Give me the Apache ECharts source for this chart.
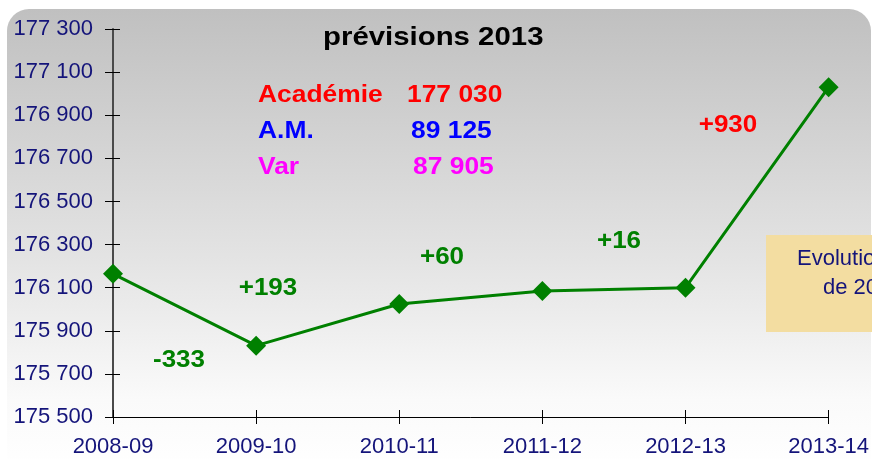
<!DOCTYPE html>
<html>
<head>
<meta charset="utf-8">
<script src="https://cdn.jsdelivr.net/npm/echarts@6/dist/echarts.min.js"></script>
<style>
  html, body { margin: 0; padding: 0; background: #fff; }
  #chart { width: 872px; height: 459px; }
</style>
</head>
<body>
<div id="chart"></div>
<script>
// annees scolaires et effectifs de l'academie
const years = ["2008-09", "2009-10", "2010-11", "2011-12", "2012-13", "2013-14"];
const effectifs = [176164, 175831, 176024, 176084, 176100, 177030];
const variations = ["-333", "+193", "+60", "+16", "+930"];
const yTicks = [175500, 177300, 200];

const chart = echarts.init(document.getElementById("chart"));
const font = "Liberation Sans, Arial, sans-serif";
const navy = "#14147a";

function fmt(v) {
  return String(v).replace(/\B(?=(\d{3})+(?!\d))/g, " ");
}

// positions des textes de variation
const varPos = [[179, 361, "#008000"], [268, 289, "#008000"], [442, 258, "#008000"], [619, 242, "#008000"], [728, 126, "#ff0000"]];

function txt(t, x, y, color, size, sx, align) {
  return {
    type: "text", x: x, y: y, scaleX: sx,
    style: { text: t, fill: color, font: "bold " + size + "px " + font, textAlign: align || "left", textVerticalAlign: "middle" }
  };
}

chart.setOption({
  animation: false,
  grid: { left: 113, right: 43, top: 29, bottom: 42 },
  xAxis: [
    {
      type: "category",
      data: years,
      boundaryGap: false,
      axisLine: { lineStyle: { color: "#000", width: 1 } },
      axisTick: { alignWithLabel: true, length: 7, lineStyle: { color: "#000" } },
      axisLabel: { color: navy, fontSize: 22, fontFamily: font, margin: 19, interval: 0 },
      splitLine: { show: false }
    },
    {
      type: "category",
      data: years,
      boundaryGap: false,
      position: "bottom",
      axisLine: { show: false },
      axisTick: { show: true, inside: true, length: 7, lineStyle: { color: "#000" } },
      axisLabel: { show: false },
      splitLine: { show: false }
    }
  ],
  yAxis: [
    {
      type: "value",
      min: yTicks[0],
      max: yTicks[1],
      interval: yTicks[2],
      axisLine: { show: true, lineStyle: { color: "#4a4a4a", width: 2 } },
      axisTick: { show: true, length: 8, lineStyle: { color: "#000" } },
      axisLabel: { color: navy, fontSize: 22, fontFamily: font, margin: 20, formatter: fmt },
      splitLine: { show: false }
    },
    {
      type: "value",
      position: "left",
      min: yTicks[0],
      max: yTicks[1],
      interval: yTicks[2],
      axisLine: { show: false },
      axisTick: { show: true, inside: true, length: 7, lineStyle: { color: "#000" } },
      axisLabel: { show: false },
      splitLine: { show: false }
    }
  ],
  series: [
    {
      type: "line",
      data: effectifs,
      symbol: "diamond",
      symbolSize: 20,
      lineStyle: { color: "#008000", width: 3 },
      itemStyle: { color: "#008000" },
      z: 5
    }
  ],
  graphic: [
    {
      type: "rect",
      z: -10,
      silent: true,
      shape: { x: 7, y: 9, width: 864, height: 460, r: [22, 22, 0, 0] },
      style: {
        fill: new echarts.graphic.LinearGradient(0, 0, 0, 1, [
          { offset: 0, color: "#c0c0c0" },
          { offset: 0.55, color: "#e4e4e4" },
          { offset: 0.85, color: "#fafafa" },
          { offset: 1, color: "#ffffff" }
        ])
      }
    },
    txt("prévisions 2013", 323, 38, "#000", 26, 1.13),
    txt("Académie", 258, 95, "#ff0000", 24, 1.1),
    txt("177 030", 407, 95, "#ff0000", 24, 1.1),
    txt("A.M.", 258, 131, "#0000ff", 24, 1.1),
    txt("89 125", 411, 131, "#0000ff", 24, 1.1),
    txt("Var", 258, 167, "#ff00ff", 24, 1.1),
    txt("87 905", 413, 167, "#ff00ff", 24, 1.1),
    {
      type: "rect",
      shape: { x: 766, y: 235, width: 120, height: 97 },
      style: { fill: "#f3dda1" }
    },
    { type: "text", x: 797, y: 259, style: { text: "Evolution", fill: navy, font: "22px " + font, textVerticalAlign: "middle" } },
    { type: "text", x: 823, y: 288, style: { text: "de 2008", fill: navy, font: "22px " + font, textVerticalAlign: "middle" } }
  ].concat(variations.map(function (v, i) {
    return txt(v, varPos[i][0], varPos[i][1], varPos[i][2], 23, 1.13, "center");
  }))
});
</script>
</body>
</html>
